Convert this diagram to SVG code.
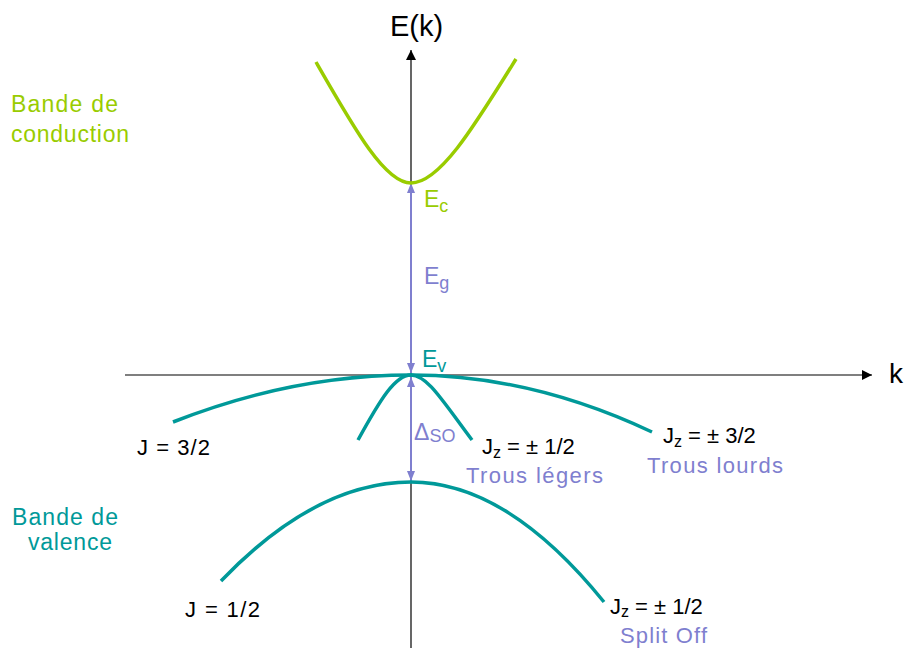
<svg xmlns="http://www.w3.org/2000/svg" width="906" height="648" viewBox="0 0 906 648">
<style>
text{font-family:"Liberation Sans",Arial,sans-serif;}
.lbl{font-size:22px;fill:#000;}
.purple{font-size:22px;fill:#7F7FCF;}
.green{fill:#99CC00;}
.teal{fill:#009999;}
.band{fill:none;stroke-width:3.5;stroke-linecap:butt;}
.cb{stroke:#99CC00;}
.vb{stroke:#009999;}
.axis{stroke:#000;stroke-width:1.2;fill:none;}
.parr{stroke:#7F7FCF;stroke-width:2;fill:none;}
</style>
<defs>
<marker id="ah" viewBox="0 0 10 10" refX="10" refY="5" markerWidth="10" markerHeight="10" markerUnits="userSpaceOnUse" orient="auto">
<path d="M0,0 L10,5 L0,10 z" fill="#000"/>
</marker>
<marker id="pa" viewBox="0 0 10 8" refX="10" refY="4" markerWidth="10" markerHeight="8" markerUnits="userSpaceOnUse" orient="auto-start-reverse">
<path d="M0,0 L10,4 L0,8 z" fill="#7F7FCF"/>
</marker>
</defs>
<g id="connectors">
<line class="axis" x1="411" y1="648" x2="411" y2="50" marker-end="url(#ah)"/>
<line class="axis" x1="125" y1="375" x2="872" y2="375" marker-end="url(#ah)"/>
<line class="parr" x1="411" y1="183" x2="411" y2="373" marker-start="url(#pa)" marker-end="url(#pa)"/>
<line class="parr" x1="411" y1="377" x2="411" y2="481" marker-start="url(#pa)" marker-end="url(#pa)"/>
</g>
<g id="conduction-band">
<path class="band cb" d="M316,62 C355,130 385,183 411,183 C440,183 475,125 516,59"/>
</g>
<g id="heavy-holes">
<path class="band vb" d="M173,422 Q292,375 411,375 Q531,375 652,432"/>
</g>
<g id="light-holes">
<path class="band vb" d="M358,440 C380,400 395,375 411,375 C427,375 442,400 472,440"/>
</g>
<g id="split-off">
<path class="band vb" d="M221,581 Q316,482 411,482 Q507,482 604,602"/>
</g>
<g id="axis-labels">
<text x="390" y="36" style="font-size:29px" fill="#000">E(k)</text>
<text x="889" y="383" style="font-size:28px" fill="#000">k</text>
</g>
<g id="energy-labels">
<text x="424" y="207" style="font-size:23px" class="green">E<tspan font-size="18" dy="5">c</tspan></text>
<text x="424" y="284" style="font-size:23px" fill="#7F7FCF">E<tspan font-size="18" dy="5">g</tspan></text>
<text x="422" y="367" style="font-size:23px" class="teal">E<tspan font-size="18" dy="5">v</tspan></text>
<text x="414" y="440" style="font-size:23px" fill="#7F7FCF">Δ<tspan font-size="18" dy="2">SO</tspan></text>
</g>
<g id="band-names">
<text x="11" y="112" style="font-size:23px" class="green" textLength="107" lengthAdjust="spacing">Bande de</text>
<text x="11" y="142" style="font-size:23px" class="green" textLength="118" lengthAdjust="spacing">conduction</text>
<text x="12" y="525" style="font-size:23px" class="teal" textLength="106" lengthAdjust="spacing">Bande de</text>
<text x="28" y="550" style="font-size:23px" class="teal" textLength="84" lengthAdjust="spacing">valence</text>
</g>
<g id="branch-labels">
<text x="137" y="455" class="lbl" textLength="73" lengthAdjust="spacing">J = 3/2</text>
<text x="185" y="617" class="lbl" textLength="75" lengthAdjust="spacing">J = 1/2</text>
<text x="482" y="454" class="lbl">J<tspan font-size="16" dy="4">z</tspan><tspan dy="-4"> = ± 1/2</tspan></text>
<text x="466" y="483" class="purple" textLength="137" lengthAdjust="spacing">Trous légers</text>
<text x="663" y="443" class="lbl">J<tspan font-size="16" dy="4">z</tspan><tspan dy="-4"> = ± 3/2</tspan></text>
<text x="647" y="473" class="purple" textLength="136" lengthAdjust="spacing">Trous lourds</text>
<text x="610" y="614" class="lbl">J<tspan font-size="16" dy="3">z</tspan><tspan dy="-3"> = ± 1/2</tspan></text>
<text x="620" y="643" class="purple" textLength="87" lengthAdjust="spacing">Split Off</text>
</g>
</svg>
